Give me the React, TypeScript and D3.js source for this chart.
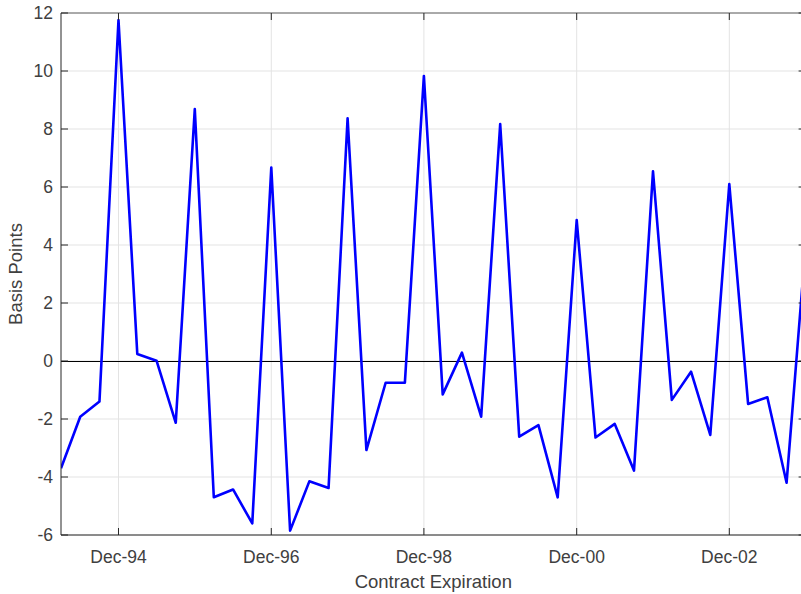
import React from "react";
import * as d3 from "d3";

// Quarterly contract expirations (first of month)
const expirations: string[] = [
  "1994-03", "1994-06", "1994-09", "1994-12",
  "1995-03", "1995-06", "1995-09", "1995-12",
  "1996-03", "1996-06", "1996-09", "1996-12",
  "1997-03", "1997-06", "1997-09", "1997-12",
  "1998-03", "1998-06", "1998-09", "1998-12",
  "1999-03", "1999-06", "1999-09", "1999-12",
  "2000-03", "2000-06", "2000-09", "2000-12",
  "2001-03", "2001-06", "2001-09", "2001-12",
  "2002-03", "2002-06", "2002-09", "2002-12",
  "2003-03", "2003-06", "2003-09", "2003-12",
];

const basisPoints: number[] = [
  -3.7, -1.92, -1.4, 11.76,
  0.24, 0.01, -2.13, 8.69,
  -4.7, -4.43, -5.6, 6.67,
  -5.85, -4.15, -4.38, 8.37,
  -3.07, -0.75, -0.75, 9.83,
  -1.15, 0.29, -1.92, 8.17,
  -2.61, -2.21, -4.7, 4.86,
  -2.64, -2.17, -3.78, 6.54,
  -1.34, -0.37, -2.55, 6.1,
  -1.48, -1.25, -4.2, 4.0,
];

const xTickDates: string[] = ["1994-12", "1996-12", "1998-12", "2000-12", "2002-12"];
const xTickLabels: string[] = ["Dec-94", "Dec-96", "Dec-98", "Dec-00", "Dec-02"];
const yTicks: number[] = [-6, -4, -2, 0, 2, 4, 6, 8, 10, 12];
const xDomain: string[] = ["1994-03", "2003-12"];
const yDomain: number[] = [-6, 12];

const parse = d3.timeParse("%Y-%m");

export default function App() {
  const W = 801;
  const H = 594;
  const left = 61;
  const right = 805.6;
  const top = 13;
  const bottom = 535;

  const x = d3
    .scaleTime()
    .domain([parse(xDomain[0])!, parse(xDomain[1])!])
    .range([left, right]);
  const y = d3.scaleLinear().domain(yDomain).range([bottom, top]);

  const data = expirations.map((d, i) => ({ date: parse(d)!, v: basisPoints[i] }));
  const line = d3
    .line<{ date: Date; v: number }>()
    .x((d) => x(d.date))
    .y((d) => y(d.v));

  const tickLen = 7;
  const axisColor = "#262626";
  const textColor = "#404040";
  const gridColor = "#e3e3e3";
  const font = "'Liberation Sans', Arial, Helvetica, sans-serif";

  return (
    <svg
      width={W}
      height={H}
      style={{ position: "absolute", left: 0, top: 0, background: "#fff" }}
      fontFamily={font}
    >
      <defs>
        <clipPath id="plotClip">
          <rect x={left} y={top} width={right - left} height={bottom - top} />
        </clipPath>
      </defs>
      <rect x={0} y={0} width={W} height={H} fill="#fff" />
      {/* grid */}
      {yTicks.map((t) => (
        <line
          key={"gy" + t}
          x1={left}
          x2={right}
          y1={y(t)}
          y2={y(t)}
          stroke={gridColor}
          strokeWidth={1}
        />
      ))}
      {xTickDates.map((t) => (
        <line
          key={"gx" + t}
          x1={x(parse(t)!)}
          x2={x(parse(t)!)}
          y1={top}
          y2={bottom}
          stroke={gridColor}
          strokeWidth={1}
        />
      ))}
      {/* zero line */}
      <line x1={left} x2={right} y1={y(0) + 0.5} y2={y(0) + 0.5} stroke="#000" strokeWidth={1} />
      {/* series */}
      <path
        d={line(data) || ""}
        fill="none"
        stroke="#0000ff"
        strokeWidth={2.6}
        strokeLinejoin="round"
        clipPath="url(#plotClip)"
      />
      {/* axes box */}
      <line x1={left} x2={right} y1={bottom} y2={bottom} stroke={axisColor} strokeWidth={1} />
      <line x1={left} x2={right} y1={top} y2={top} stroke={axisColor} strokeWidth={1} strokeOpacity={0.7} />
      <line x1={left} x2={left} y1={top} y2={bottom} stroke={axisColor} strokeWidth={1} />
      <line x1={right} x2={right} y1={top} y2={bottom} stroke={axisColor} strokeWidth={1} strokeOpacity={0.7} />
      {/* y ticks */}
      {yTicks.map((t) => (
        <g key={"yt" + t}>
          <line x1={left} x2={left + tickLen} y1={y(t)} y2={y(t)} stroke={axisColor} strokeWidth={1} />
          <line x1={right} x2={right - tickLen} y1={y(t)} y2={y(t)} stroke={axisColor} strokeWidth={1} />
          <text
            x={left - 8}
            y={y(t)}
            dy="0.35em"
            textAnchor="end"
            fontSize={17.5}
            fill={textColor}
          >
            {t}
          </text>
        </g>
      ))}
      {/* x ticks */}
      {xTickDates.map((t, i) => {
        const px = x(parse(t)!);
        return (
          <g key={"xt" + t}>
            <line x1={px} x2={px} y1={bottom} y2={bottom - tickLen} stroke={axisColor} strokeWidth={1} />
            <line x1={px} x2={px} y1={top} y2={top + tickLen} stroke={axisColor} strokeWidth={1} />
            <text x={px} y={bottom + 28} textAnchor="middle" fontSize={17.5} fill={textColor}>
              {xTickLabels[i]}
            </text>
          </g>
        );
      })}
      {/* axis labels */}
      <text
        x={(left + right) / 2}
        y={588}
        textAnchor="middle"
        fontSize={18.5}
        fill={textColor}
      >
        Contract Expiration
      </text>
      <text
        transform={`translate(22, ${(top + bottom) / 2}) rotate(-90)`}
        textAnchor="middle"
        fontSize={18.5}
        fill={textColor}
      >
        Basis Points
      </text>
    </svg>
  );
}
